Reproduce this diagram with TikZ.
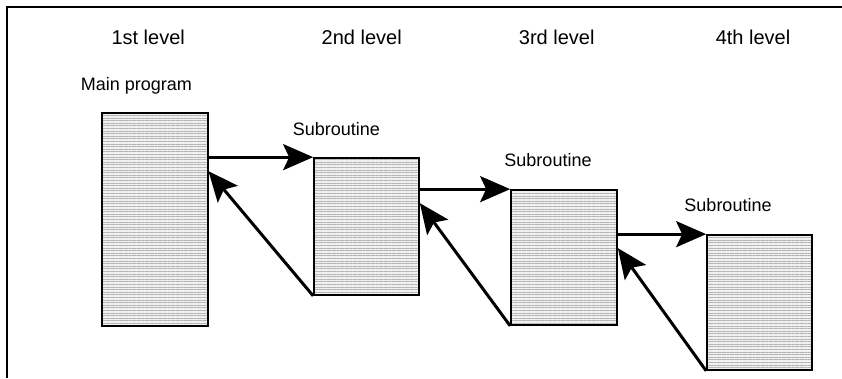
\documentclass[tikz,border=0pt]{standalone}
\usepackage{fontspec}
\setmainfont{Liberation Sans}
\usetikzlibrary{calc,positioning,arrows.meta,patterns.meta}
\definecolor{BoxFill}{HTML}{F0F0F0}
\definecolor{BoxLines}{HTML}{B4B4B4}

\tikzset{
  levelbox/.style={draw,line width=1.7pt,inner sep=0pt,
    preaction={fill=BoxFill},
    pattern={Lines[distance=2.6pt,line width=.9pt]},pattern color=BoxLines},
  callarrow/.style={line width=3pt,
    -{Stealth[length=30pt,width=26pt,inset=6pt]}},
  headtext/.style={font=\fontsize{20}{24}\selectfont,inner sep=0pt,anchor=base},
  labeltext/.style={font=\fontsize{18}{22}\selectfont,inner sep=0pt,anchor=base}
}

\begin{document}
\begin{tikzpicture}[x=1pt,y=1pt,line join=miter]
  \useasboundingbox (0,0) rectangle (842,378);
  % frame
  \draw[line width=1.4pt] (842,371) -- (7,371) -- (7,0);

  % level headings
  \node[headtext] (lvlA) at (148.2,333) {1st level};
  \node[headtext] (lvlB) at (361.7,333) {2nd level};
  \node[headtext] (lvlC) at (556.7,333) {3rd level};
  \node[headtext] (lvlD) at (753,333) {4th level};

  % program boxes
  \node[levelbox,minimum width=106pt,minimum height=213pt] (main) at (155,158.5) {};
  \node[levelbox,minimum width=105pt,minimum height=137pt] (subA) at (366.5,151.5) {};
  \node[levelbox,minimum width=106pt,minimum height=135pt] (subB) at (564,120.5) {};
  \node[levelbox,minimum width=105pt,minimum height=135pt] (subC) at (759.5,75.5) {};

  \node[labeltext] (mainlbl) at (136.5,287.3) {Main program};
  \node[labeltext] (subAlbl) at (336.3,242) {Subroutine};
  \node[labeltext] (subBlbl) at (548,211.3) {Subroutine};
  \node[labeltext] (subClbl) at (728,166.3) {Subroutine};

  % calls and returns
  \draw[callarrow] (main.east |- subA.north west) -- (subA.north west);
  \draw[callarrow] (subA.south west) -- ($(main.east |- subA.north west)+(0,-14)$);
  \draw[callarrow] (subA.east |- subB.north west) -- (subB.north west);
  \draw[callarrow] (subB.south west) -- ($(subA.east |- subB.north west)+(0,-14)$);
  \draw[callarrow] (subB.east |- subC.north west) -- (subC.north west);
  \draw[callarrow] (subC.south west) -- ($(subB.east |- subC.north west)+(0,-14)$);
\end{tikzpicture}
\end{document}
